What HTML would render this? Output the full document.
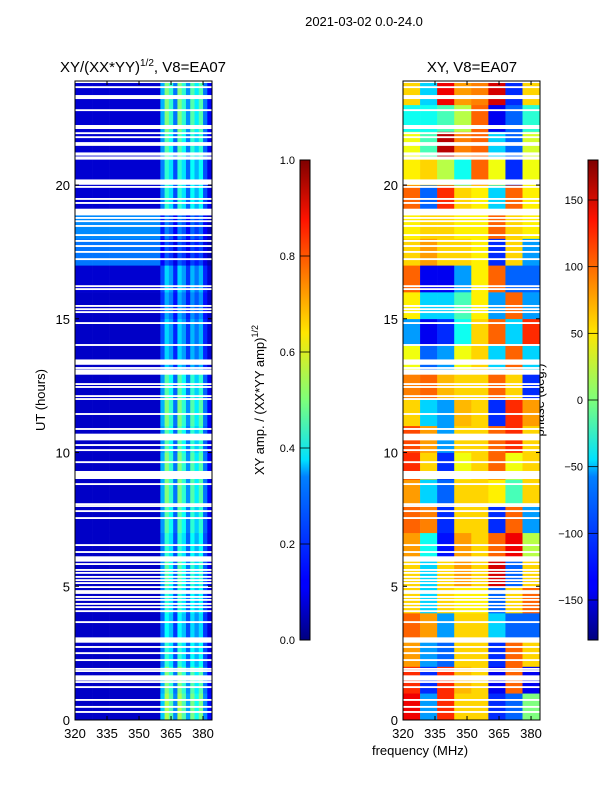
<!DOCTYPE html>
<html><head><meta charset="utf-8"><style>
body{margin:0;background:#fff;}
svg{display:block;font-family:"Liberation Sans",sans-serif;}
</style></head><body>
<svg id="chart" width="600" height="800" xmlns="http://www.w3.org/2000/svg">
<defs>
<linearGradient id="jet" x1="0" y1="1" x2="0" y2="0">
<stop offset="0" stop-color="#00007f"/><stop offset="0.11" stop-color="#0000ff"/><stop offset="0.125" stop-color="#0000ff"/>
<stop offset="0.34" stop-color="#0080ff"/><stop offset="0.375" stop-color="#00e0ff"/><stop offset="0.5" stop-color="#7dff7a"/>
<stop offset="0.64" stop-color="#ffe600"/><stop offset="0.875" stop-color="#ff1300"/><stop offset="1" stop-color="#7f0000"/>
</linearGradient>
</defs>
<text x="364" y="26" font-size="13" text-anchor="middle">2021-03-02 0.0-24.0</text>
<text x="143" y="72" font-size="15" text-anchor="middle">XY/(XX*YY)<tspan font-size="10" dy="-6">1/2</tspan><tspan dy="6">, V8=EA07</tspan></text>
<text x="472" y="72" font-size="15" text-anchor="middle">XY, V8=EA07</text>
<text x="420" y="755" font-size="13" text-anchor="middle">frequency (MHz)</text>
<text x="45" y="400" font-size="13" text-anchor="middle" transform="rotate(-90 45 400)">UT (hours)</text>
<text x="264" y="400" font-size="13" text-anchor="middle" transform="rotate(-90 264 400)">XY amp. / (XX*YY amp)<tspan font-size="9" dy="-6">1/2</tspan></text>
<text x="544" y="400" font-size="13" text-anchor="middle" transform="rotate(-90 544 400)">phase (deg.)</text>
<g id="left"></g><g id="right"></g><g id="cbars"></g>
</svg>
<script>
const freqEdges = [320,328,336,344,352,360,362,364,366,368,370,372,374,376,378,380,382,384];
const ampProfile = [0,0,0,0,0,0.25,0.42,0.35,0.2,0.42,0.35,0.22,0.38,0.3,0.38,0.2,0.1];
const ampRowScale = [1.3,1.2,1.0,0.9,1.0,1.1,1.0,1.1,1.2,1.2,1.1,1.2,1.1,0.8,0.8,0.7,0.8,0.5,0.6,1.0,1.0,1.1,1.2,1.2];
const ampBackground = [0.07,0.07,0.07,0.07,0.07,0.07,0.07,0.07,0.07,0.07,0.07,0.07,0.07,0.07,0.07,0.07,0.08,0.24,0.26,0.08,0.08,0.08,0.08,0.08];
const phaseFreqEdges = [320,328,336,344,352,360,368,376,384];
const phaseGrid = [
[140,-80,120,60,60,-120,-100,0],
[120,-120,120,70,60,-140,100,-140],
[80,-80,-100,60,60,-120,100,60],
[100,80,-80,60,60,-60,-100,-100],
[60,-60,60,50,50,-100,60,100],
[60,-60,60,80,60,150,-100,60],
[80,-40,-130,80,60,100,140,20],
[100,90,-120,60,60,-120,100,-80],
[80,-60,-100,60,60,50,-20,60],
[120,60,-120,40,60,100,40,60],
[110,80,-80,60,60,100,120,60],
[60,-60,-80,70,60,-120,120,80],
[90,100,70,60,60,100,60,-120],
[40,-100,-80,40,60,-60,100,-60],
[-80,-140,-120,-40,60,100,-60,120],
[50,-60,-60,-20,50,-80,100,-80],
[100,-140,-140,-80,50,100,-100,-100],
[60,80,60,60,50,-120,60,-80],
[50,60,60,50,50,100,60,50],
[100,-100,120,60,50,-60,100,50],
[50,60,20,-40,100,40,-120,40],
[40,-20,160,90,100,-60,-100,30],
[-40,-40,-20,20,100,-140,-100,-30],
[60,-60,140,80,90,150,-120,60]];
const gapTimes = [23.85,23.66,23.29,22.8,22.17,21.94,21.79,21.57,21.5,21.16,21.01,20.11,19.93,19.48,19.33,18.99,18.77,18.65,18.47,18.13,17.91,17.72,17.5,17.23,16.22,16.11,15.48,15.36,15.25,14.84,14.02,13.38,13.16,13.01,12.56,12.45,12.11,12.0,11.44,10.88,10.58,10.28,10.09,9.64,9.16,8.82,8.07,8.0,7.81,7.55,6.54,6.28,6.02,5.83,5.61,5.5,5.35,5.23,5.12,4.97,4.82,4.75,4.6,4.49,4.34,4.22,4.07,3.66,2.99,2.73,2.5,2.24,1.91,1.83,1.57,1.42,1.23,0.75,0.49,0.3];
const gapWidths = {23.29:0.15,22.17:0.15,21.16:0.12,21.01:0.12,20.11:0.2,18.99:0.25,13.38:0.2,13.01:0.2,10.58:0.25,9.16:0.3,6.02:0.2,2.99:0.2,1.57:0.2};
const xTicks = [320,335,350,365,380];
const yTicks = [0,5,10,15,20];
const ampTicks = [0.0,0.2,0.4,0.6,0.8,1.0];
const phaseTicks = [-150,-100,-50,0,50,100,150];

const NS="http://www.w3.org/2000/svg";
const T0=0,T1=23.89,F0=320,F1=384.2,PY0=81,PY1=720,PW=137;
function yS(t){return PY1-(t-T0)/(T1-T0)*(PY1-PY0);}
function xS(f,x0){return x0+(f-F0)/(F1-F0)*PW;}
function jet(v){v=Math.max(0,Math.min(1,v));
 const c=(a)=>Math.round(255*Math.max(0,Math.min(1,a)));
 const r=1.5-Math.abs(4*v-3),g=1.5-Math.abs(4*v-2),b=1.5-Math.abs(4*v-1);
 return `rgb(${c(r)},${c(g)},${c(b)})`;}
function mk(tag,attrs,parent){const e=document.createElementNS(NS,tag);for(const k in attrs)e.setAttribute(k,attrs[k]);parent.appendChild(e);return e;}

function panel(gid,x0,cellFn,edges,prefix){
 const g=document.getElementById(gid);
 for(let h=0;h<24;h++){
  const ya=yS(Math.min(h+1,T1)),yb=yS(h);
  for(let i=0;i<edges.length-1;i++){
   const xa=xS(edges[i],x0),xb=xS(edges[i+1],x0);
   const r=mk('rect',{x:xa,y:ya,width:xb-xa+0.3,height:yb-ya+0.3,fill:cellFn(h,i)},g);
   
   
  }
 }
 gapTimes.forEach(t=>{const w=gapWidths[t]||0.07;
  const r=mk('rect',{x:x0,y:yS(t+w/2),width:PW,height:Math.max(1.5,yS(t-w/2)-yS(t+w/2)),fill:'#fff'},g);
  
  });
 const fr=mk('rect',{x:x0,y:PY0,width:PW,height:PY1-PY0,fill:'none',stroke:'#000','stroke-width':1},g);
 
 
 xTicks.forEach(f=>{const x=xS(f,x0);
  mk('line',{x1:x,x2:x,y1:PY1,y2:PY1-4,stroke:'#000'},g);mk('line',{x1:x,x2:x,y1:PY0,y2:PY0+4,stroke:'#000'},g);
  const t=mk('text',{x:x,y:PY1+18,'font-size':13,'text-anchor':'middle'},g);t.textContent=f;
  
  });
 yTicks.forEach(v=>{const y=yS(v);
  mk('line',{x1:x0,x2:x0+4,y1:y,y2:y,stroke:'#000'},g);mk('line',{x1:x0+PW,x2:x0+PW-4,y1:y,y2:y,stroke:'#000'},g);
  const t=mk('text',{x:x0-5,y:y+5,'font-size':13,'text-anchor':'end'},g);t.textContent=v;
  
  });
}
panel('left',75,(h,i)=>{const p=ampProfile[i];return jet(p>0?p*ampRowScale[h]:ampBackground[h]);},freqEdges,'amp');
panel('right',403,(h,i)=>jet((phaseGrid[h][i]+180)/360),phaseFreqEdges,'phase');

function cbar(x,vmin,vmax,ticks,fmt,name){
 const g=document.getElementById('cbars');const y0=160,y1=640;
 const r=mk('rect',{x:x,y:y0,width:10,height:y1-y0,fill:'url(#jet)',stroke:'#000','stroke-width':1},g);
 
 
 ticks.forEach(v=>{const y=y1-(v-vmin)/(vmax-vmin)*(y1-y0);
  mk('line',{x1:x,x2:x+10,y1:y,y2:y,stroke:'#000','stroke-width':0.8},g);
  const t=mk('text',{x:x-5,y:y+4,'font-size':11,'text-anchor':'end'},g);t.textContent=fmt(v);
  
  });
}
cbar(300,0,1,ampTicks,v=>v.toFixed(1),'amp-colorbar');
cbar(588,-180,180,phaseTicks,v=>v<0?'\u2212'+(-v):String(v),'phase-colorbar');
</script>
</body></html>
